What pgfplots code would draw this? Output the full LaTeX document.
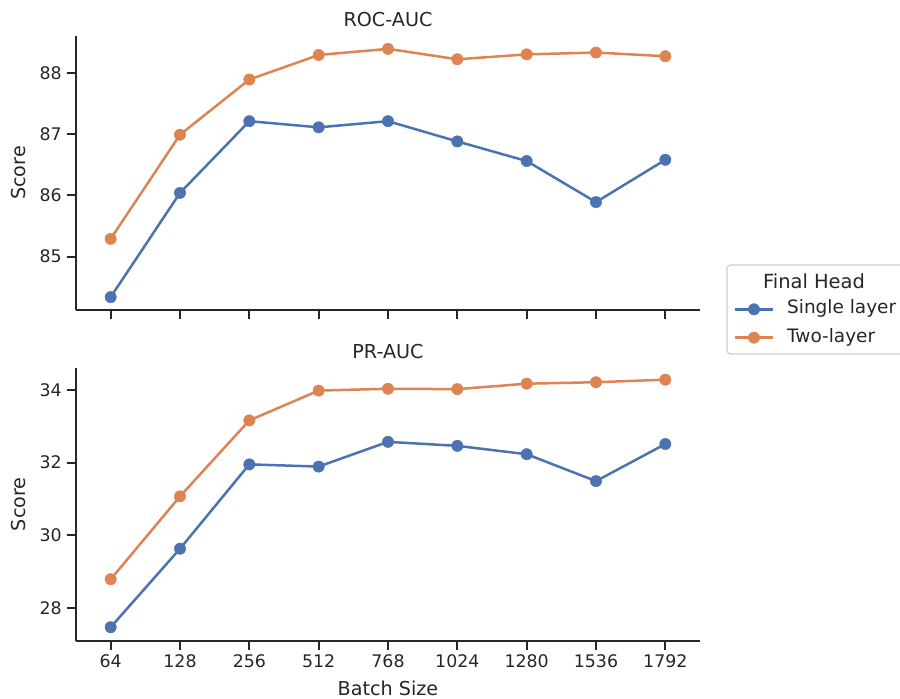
\documentclass[border=0pt]{standalone}
\usepackage{fontspec}
\setmainfont{DejaVu Sans}
\usepackage{pgfplots}
\pgfplotsset{compat=1.18}
\definecolor{txt}{HTML}{262626}
\definecolor{sblue}{HTML}{4C72B0}
\definecolor{sorange}{HTML}{DD8452}
\definecolor{lgframe}{HTML}{CCCCCC}
\pgfplotsset{
  base/.style={
    scale only axis, width=449.28pt,
    xmin=-0.5, xmax=8.5,
    axis x line*=bottom, axis y line*=left,
    axis line style={-, color=txt, line width=1.4pt},
    every tick/.style={color=txt, line width=1.4pt},
    major tick length=6.7pt, tick align=outside,
    xtick={0,1,2,3,4,5,6,7,8},
    ticklabel style={font=\fontsize{12.5}{15}\selectfont, text=txt},
    /pgf/number format/assume math mode=true,
    label style={font=\fontsize{13.8}{16}\selectfont, text=txt},
    title style={font=\fontsize{13.8}{16}\selectfont, text=txt, at={(axis description cs:0.5,1)}, anchor=base, yshift=0.5pt},
    ylabel style={at={(axis description cs:-0.0929,0.5)}, anchor=center, rotate=0},
    ylabel=Score,
    legend image code/.code={\draw[mark repeat=2,mark phase=2] plot coordinates {(0pt,0pt) (14pt,0pt) (28pt,0pt)};},
  },
  sl/.style={color=sblue, line width=1.8pt, mark=*, mark size=4.1pt, mark options={solid, fill=sblue, draw=sblue, line width=0.3pt}},
  tl/.style={color=sorange, line width=1.8pt, mark=*, mark size=4.1pt, mark options={solid, fill=sorange, draw=sorange, line width=0.3pt}},
}
\begin{document}
\begin{tikzpicture}
\useasboundingbox (0,0) rectangle (648pt,503.28pt);
% top axis
\begin{axis}[base, at={(54.72pt,280.08pt)}, anchor=south west, height=197.28pt,
  ymin=84.13, ymax=88.6, ytick={85,86,87,88}, xticklabels={},
  title={ROC-AUC},
  legend style={at={(axis description cs:1.0529,-0.0493)}, anchor=west, draw=none, fill=none,
    font=\fontsize{13.3}{16}\selectfont, text=txt, row sep=8.9pt, inner sep=0pt,
    nodes={inner sep=0pt, text height=9pt, text depth=2.5pt}},
  legend cell align=left,
  legend columns=1,
]
\addplot[sl] coordinates {(0,84.34) (1,86.04) (2,87.21) (3,87.11) (4,87.21) (5,86.88) (6,86.56) (7,85.89) (8,86.58)};
\addlegendentry{\hspace{9pt}Single layer}
\addplot[tl] coordinates {(0,85.29) (1,86.99) (2,87.89) (3,88.29) (4,88.39) (5,88.22) (6,88.30) (7,88.33) (8,88.27)};
\addlegendentry{\hspace{9pt}Two-layer}
\end{axis}
% bottom axis
\begin{axis}[base, at={(54.72pt,41.98pt)}, anchor=south west, height=196.56pt,
  ymin=27.1, ymax=34.61, ytick={28,30,32,34},
  xticklabels={64,128,256,512,768,1024,1280,1536,1792},
  title={PR-AUC},
  xlabel={Batch Size},
  xlabel style={at={(axis description cs:0.5,-0.175)}, anchor=center},
]
\addplot[sl] coordinates {(0,27.47) (1,29.63) (2,31.95) (3,31.89) (4,32.57) (5,32.46) (6,32.23) (7,31.49) (8,32.51)};
\addplot[tl] coordinates {(0,28.79) (1,31.07) (2,33.16) (3,33.98) (4,34.03) (5,34.02) (6,34.17) (7,34.21) (8,34.28)};
\end{axis}
% legend frame and title
\draw[lgframe, line width=0.8pt, rounded corners=2.5pt] (523.44pt,248.4pt) rectangle (660pt,312.48pt);
\node[font=\fontsize{14}{16}\selectfont, text=txt, anchor=center] at (586.08pt,300.96pt) {Final Head};
\end{tikzpicture}
\end{document}
